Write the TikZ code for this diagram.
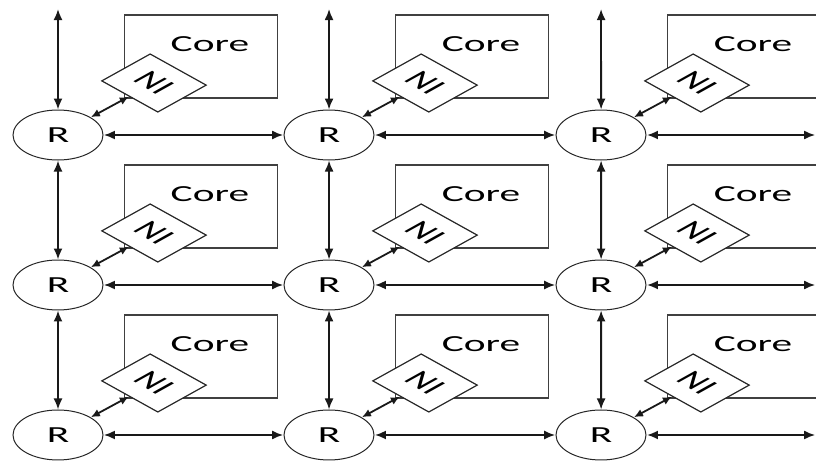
\documentclass[tikz,border=0pt]{standalone}
\usepackage{fontspec}
\setmainfont{Carlito}
\usetikzlibrary{arrows.meta}

\tikzstyle{router} = [circle,draw=black!85,line width=0.5pt,minimum size=25pt,inner sep=0pt,fill=white]
\tikzstyle{ni} = [rectangle,draw=black!85,line width=0.6pt,rotate=-45,minimum width=22pt,minimum height=19pt,inner sep=0pt,fill=white]
\tikzstyle{core} = [rectangle,draw=black!75,line width=0.6pt,minimum width=42.5pt,minimum height=41.5pt,inner sep=0pt,
  label={[anchor=north east,inner sep=0pt,xshift=-8pt,yshift=-11pt]north east:Core}]
\tikzstyle{link} = [<->,line width=0.9pt,black!90]
\tikzstyle{nilink} = [{Latex[length=4.5pt,width=4pt]}-{Latex[length=4.5pt,width=4pt]},line width=0.9pt,black!90]

\begin{document}
\begin{tikzpicture}[xscale=1.8,transform shape,x=0.27778pt,y=-0.5pt,
  >={Latex[length=5.5pt,width=4.5pt]},font=\fontsize{11.5}{12}\selectfont]
	\useasboundingbox (0,0) rectangle (816,462);
	% cores
	\node (core11) [core] at (201,56.5) {};
	\node (core12) [core] at (472,56.5) {};
	\node (core13) [core] at (744,56.5) {};
	\node (core21) [core] at (201,206.5) {};
	\node (core22) [core] at (472,206.5) {};
	\node (core23) [core] at (744,206.5) {};
	\node (core31) [core] at (201,356.5) {};
	\node (core32) [core] at (472,356.5) {};
	\node (core33) [core] at (744,356.5) {};
	% network interfaces
	\node (ni11) [ni] at (154,83) {NI};
	\node (ni12) [ni] at (425,83) {NI};
	\node (ni13) [ni] at (697,83) {NI};
	\node (ni21) [ni] at (154,233) {NI};
	\node (ni22) [ni] at (425,233) {NI};
	\node (ni23) [ni] at (697,233) {NI};
	\node (ni31) [ni] at (154,383) {NI};
	\node (ni32) [ni] at (425,383) {NI};
	\node (ni33) [ni] at (697,383) {NI};
	% routers
	\node (r11) [router] at (58,135) {R};
	\node (r12) [router] at (329,135) {R};
	\node (r13) [router] at (601,135) {R};
	\node (r21) [router] at (58,285) {R};
	\node (r22) [router] at (329,285) {R};
	\node (r23) [router] at (601,285) {R};
	\node (r31) [router] at (58,435) {R};
	\node (r32) [router] at (329,435) {R};
	\node (r33) [router] at (601,435) {R};
	% open ends of the mesh
	\coordinate (top1) at (58,9);
	\coordinate (top2) at (329,9);
	\coordinate (top3) at (601,9);
	\coordinate (east1) at (815,135);
	\coordinate (east2) at (815,285);
	\coordinate (east3) at (815,435);
	% router to NI
	\draw [nilink] (r11) -- (ni11);
	\draw [nilink] (r12) -- (ni12);
	\draw [nilink] (r13) -- (ni13);
	\draw [nilink] (r21) -- (ni21);
	\draw [nilink] (r22) -- (ni22);
	\draw [nilink] (r23) -- (ni23);
	\draw [nilink] (r31) -- (ni31);
	\draw [nilink] (r32) -- (ni32);
	\draw [nilink] (r33) -- (ni33);
	% vertical links
	\draw [link] (top1) -- (r11);
	\draw [link] (top2) -- (r12);
	\draw [link] (top3) -- (r13);
	\draw [link] (r11) -- (r21);
	\draw [link] (r12) -- (r22);
	\draw [link] (r13) -- (r23);
	\draw [link] (r21) -- (r31);
	\draw [link] (r22) -- (r32);
	\draw [link] (r23) -- (r33);
	% horizontal links
	\draw [link] (r11) -- (r12);
	\draw [link] (r12) -- (r13);
	\draw [link] (r13) -- (east1);
	\draw [link] (r21) -- (r22);
	\draw [link] (r22) -- (r23);
	\draw [link] (r23) -- (east2);
	\draw [link] (r31) -- (r32);
	\draw [link] (r32) -- (r33);
	\draw [link] (r33) -- (east3);
\end{tikzpicture}
\end{document}
